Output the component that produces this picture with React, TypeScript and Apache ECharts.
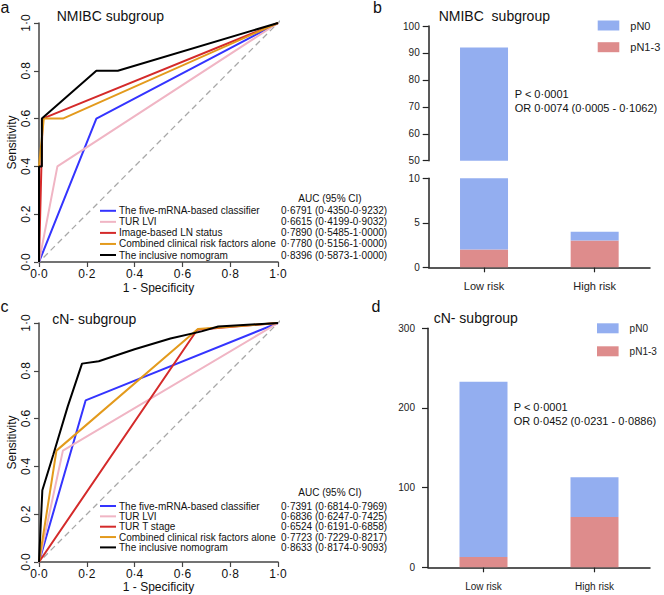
import React, { useEffect, useRef } from "react";
import * as echarts from "echarts";

const FONT = "'Liberation Sans', Arial, Helvetica, sans-serif";
const NARROW = "'Liberation Sans Narrow', 'Liberation Sans', Arial, sans-serif";

// ROC panels
const rocColors = ["#3434ff", "#f0b5c4", "#d42a2a", "#e39a1c", "#000000"];

const nmibcLabels = [
  "The five-mRNA-based classifier",
  "TUR LVI",
  "Image-based LN status",
  "Combined clinical risk factors alone",
  "The inclusive nomogram",
];
const nmibcAuc = [
  "0·6791 (0·4350-0·9232)",
  "0·6615 (0·4199-0·9032)",
  "0·7890 (0·5485-1·0000)",
  "0·7780 (0·5156-1·0000)",
  "0·8396 (0·5873-1·0000)",
];
const nmibcClassifier = [[0, 0], [0.24, 0.6], [1, 1]];
const nmibcLvi = [[0, 0], [0.077, 0.4], [1, 1]];
const nmibcImageLn = [[0, 0], [0.015, 0.6], [1, 1]];
const nmibcClinical = [[0, 0], [0, 0.4], [0.02, 0.6], [0.1, 0.6], [1, 1]];
const nmibcNomogram = [[0, 0], [0, 0.4], [0.012, 0.4], [0.012, 0.6], [0.24, 0.8], [0.33, 0.8], [1, 1]];
const nmibcCurves = [nmibcClassifier, nmibcLvi, nmibcImageLn, nmibcClinical, nmibcNomogram];

const cnLabels = [
  "The five-mRNA-based classifier",
  "TUR LVI",
  "TUR T stage",
  "Combined clinical risk factors alone",
  "The inclusive nomogram",
];
const cnAuc = [
  "0·7391 (0·6814-0·7969)",
  "0·6836 (0·6247-0·7425)",
  "0·6524 (0·6191-0·6858)",
  "0·7723 (0·7229-0·8217)",
  "0·8633 (0·8174-0·9093)",
];
const cnClassifier = [[0, 0], [0.195, 0.676], [1, 1]];
const cnLvi = [[0, 0], [0.1, 0.466], [1, 1]];
const cnTStage = [[0, 0], [0.662, 0.972], [1, 1]];
const cnClinical = [[0, 0], [0.073, 0.466], [0.665, 0.975], [1, 1]];
const cnNomogram = [
  [0, 0], [0.014, 0.3], [0.06, 0.45], [0.12, 0.65], [0.18, 0.83], [0.25, 0.84],
  [0.4, 0.89], [0.55, 0.935], [0.68, 0.965], [0.75, 0.985], [1, 1],
];
const cnCurves = [cnClassifier, cnLvi, cnTStage, cnClinical, cnNomogram];
const diagonal = [[-0.04, -0.04], [1.04, 1.04]];

// Bar panels
const riskCategories = ["Low risk", "High risk"];
const nmibcPN0 = [90, 1];
const nmibcPN13 = [2, 3];
const cnPN0 = [220, 50];
const cnPN13 = [13, 63];
const nmibcStats = ["P < 0·0001", "OR 0·0074 (0·0005 - 0·1062)"];
const cnStats = ["P < 0·0001", "OR 0·0452 (0·0231 - 0·0886)"];

const BLUE = "#93aef0";
const PINK = "#de8c8c";
const AXIS = "#454545";

const dot = (v: number) => v.toFixed(1).replace(".", "·");

function rocX(gridIndex: number, nameGap: number) {
  return {
    type: "value", gridIndex, min: 0, max: 1, interval: 0.2,
    axisLine: { show: true, onZero: false, lineStyle: { color: AXIS, width: 1.5 } },
    axisTick: { show: true, length: 5, lineStyle: { color: AXIS, width: 1.2 } },
    axisLabel: { formatter: dot, fontSize: 12, fontFamily: NARROW, color: "#111", margin: 6 },
    splitLine: { show: false },
    name: "1 - Specificity", nameLocation: "middle", nameGap,
    nameTextStyle: { fontSize: 12, fontFamily: FONT, color: "#111" },
  };
}
function rocY(gridIndex: number) {
  return {
    type: "value", gridIndex, min: 0, max: 1, interval: 0.2,
    axisLine: { show: true, onZero: false, lineStyle: { color: AXIS, width: 1.5 } },
    axisTick: { show: true, length: 5, lineStyle: { color: AXIS, width: 1.2 } },
    axisLabel: { formatter: dot, fontSize: 12, fontFamily: NARROW, color: "#111", margin: 7, rotate: 90 },
    splitLine: { show: false },
    name: "Sensitivity", nameLocation: "middle", nameGap: 21,
    nameTextStyle: { fontSize: 12, fontFamily: FONT, color: "#111" },
  };
}
function barY(gridIndex: number, min: number, max: number, interval: number, margin: number) {
  return {
    type: "value", gridIndex, min, max, interval,
    axisLine: { show: true, lineStyle: { color: "#222", width: 1.5 } },
    axisTick: { show: true, length: 6, lineStyle: { color: "#222", width: 1.2 } },
    axisLabel: { fontSize: 10, fontFamily: FONT, color: "#222", margin },
    splitLine: { show: false },
  };
}
function barX(gridIndex: number, fontSize: number, margin: number, show = true) {
  return {
    type: "category", gridIndex, data: riskCategories, show,
    axisLine: { show: true, lineStyle: { color: "#222", width: 1.5 } },
    axisTick: { show: true, alignWithLabel: true, length: 5, lineStyle: { color: "#222", width: 1.2 } },
    axisLabel: { fontSize, fontFamily: FONT, color: "#222", margin },
    splitLine: { show: false },
  };
}

function rocSeries(curves: number[][][], axisIndex: number) {
  const s: any[] = [
    {
      type: "line", xAxisIndex: axisIndex, yAxisIndex: axisIndex, data: diagonal, clip: false,
      symbol: "none", z: 1, silent: true,
      lineStyle: { color: "#a8a8a8", width: 1.3, type: [6, 4] },
    },
  ];
  curves.forEach((c, i) => {
    s.push({
      type: "line", xAxisIndex: axisIndex, yAxisIndex: axisIndex, data: c,
      symbol: "none", z: 2 + i, silent: true,
      lineStyle: { color: rocColors[i], width: 2 },
    });
  });
  return s;
}

function barSeries(axisIndex: number, pn0: number[], pn13: number[], stack: string) {
  return [
    {
      type: "bar", name: "pN1-3", xAxisIndex: axisIndex, yAxisIndex: axisIndex, stack,
      data: pn13, barWidth: 48, clip: true, itemStyle: { color: PINK },
    },
    {
      type: "bar", name: "pN0", xAxisIndex: axisIndex, yAxisIndex: axisIndex, stack,
      data: pn0, barWidth: 48, clip: true, itemStyle: { color: BLUE },
    },
  ];
}

function txt(text: string, x: number, y: number, fontSize: number, align = "left") {
  return {
    type: "text", x, y, silent: true,
    style: { text, fontSize, fontFamily: FONT, fill: "#111", align, verticalAlign: "middle" },
  };
}

function rocLegend(labels: string[], aucs: string[], headerY: number, y0: number, step: number) {
  const els: any[] = [txt("AUC (95% CI)", 298.3, headerY, 10)];
  labels.forEach((l, i) => {
    const y = y0 + i * step;
    els.push({
      type: "line", silent: true,
      shape: { x1: 100, y1: y, x2: 116, y2: y },
      style: { stroke: rocColors[i], lineWidth: 2 },
    });
    els.push(txt(l, 119, y, 10));
    els.push(txt(aucs[i], 281, y, 10));
  });
  return els;
}

export default function App() {
  const ref = useRef<HTMLDivElement>(null);
  useEffect(() => {
    if (!ref.current) return;
    const chart = echarts.init(ref.current, undefined, { renderer: "svg" });
    const option: any = {
      animation: false,
      backgroundColor: "#ffffff",
      grid: [
        { left: 39, top: 23, width: 239, height: 239 },
        { left: 39, top: 323, width: 239, height: 239 },
        { left: 428.7, top: 26, width: 221.3, height: 134.7 },
        { left: 428.7, top: 178.3, width: 221.3, height: 89 },
        { left: 428, top: 328.3, width: 222, height: 239 },
      ],
      xAxis: [
        rocX(0, 20),
        rocX(1, 18.5),
        barX(2, 11, 13, false),
        barX(3, 11, 13),
        barX(4, 10, 14),
      ],
      yAxis: [
        rocY(0),
        rocY(1),
        barY(2, 50, 100, 10, 9),
        barY(3, 0, 10, 5, 9),
        barY(4, 0, 300, 100, 13),
      ],
      legend: [
        {
          data: ["pN0", "pN1-3"], orient: "vertical", left: 597.7, top: 20,
          itemWidth: 21.6, itemHeight: 10, itemGap: 10.7, icon: "rect", padding: 0,
          selectedMode: false,
          textStyle: { fontSize: 11, fontFamily: FONT, color: "#222", padding: [0, 0, 0, 6] },
        },
        {
          data: ["pN0", "pN1-3"], orient: "vertical", left: 597, top: 323.3,
          itemWidth: 21.6, itemHeight: 10, itemGap: 13, icon: "rect", padding: 0,
          selectedMode: false,
          textStyle: { fontSize: 10, fontFamily: FONT, color: "#222", padding: [0, 0, 0, 6] },
        },
      ],
      series: [
        ...rocSeries(nmibcCurves, 0),
        ...rocSeries(cnCurves, 1),
        ...barSeries(2, nmibcPN0, nmibcPN13, "bu"),
        ...barSeries(3, nmibcPN0, nmibcPN13, "bl"),
        ...barSeries(4, cnPN0, cnPN13, "d"),
      ],
      graphic: [
        txt("a", 0.5, 7.8, 16),
        txt("b", 373, 7.8, 16),
        txt("c", 0.5, 306.2, 16),
        txt("d", 371.5, 306.2, 16),
        txt("NMIBC subgroup", 56.7, 15.8, 14),
        txt("NMIBC  subgroup", 438.7, 16, 14),
        txt("cN- subgroup", 52.3, 318.5, 14),
        txt("cN- subgroup", 433.7, 318, 14),
        txt(nmibcStats[0], 514.7, 93.7, 11),
        txt(nmibcStats[1], 514.7, 107.5, 11),
        txt(cnStats[0], 513.7, 407.2, 11),
        txt(cnStats[1], 513.7, 420.8, 11),
        ...rocLegend(nmibcLabels, nmibcAuc, 198.3, 210.8, 11.05),
        ...rocLegend(cnLabels, cnAuc, 492.7, 506, 10.35),
      ],
    };
    chart.setOption(option);
    return () => chart.dispose();
  }, []);
  return <div ref={ref} style={{ position: "absolute", left: 0, top: 0, width: 664, height: 595 }} />;
}
